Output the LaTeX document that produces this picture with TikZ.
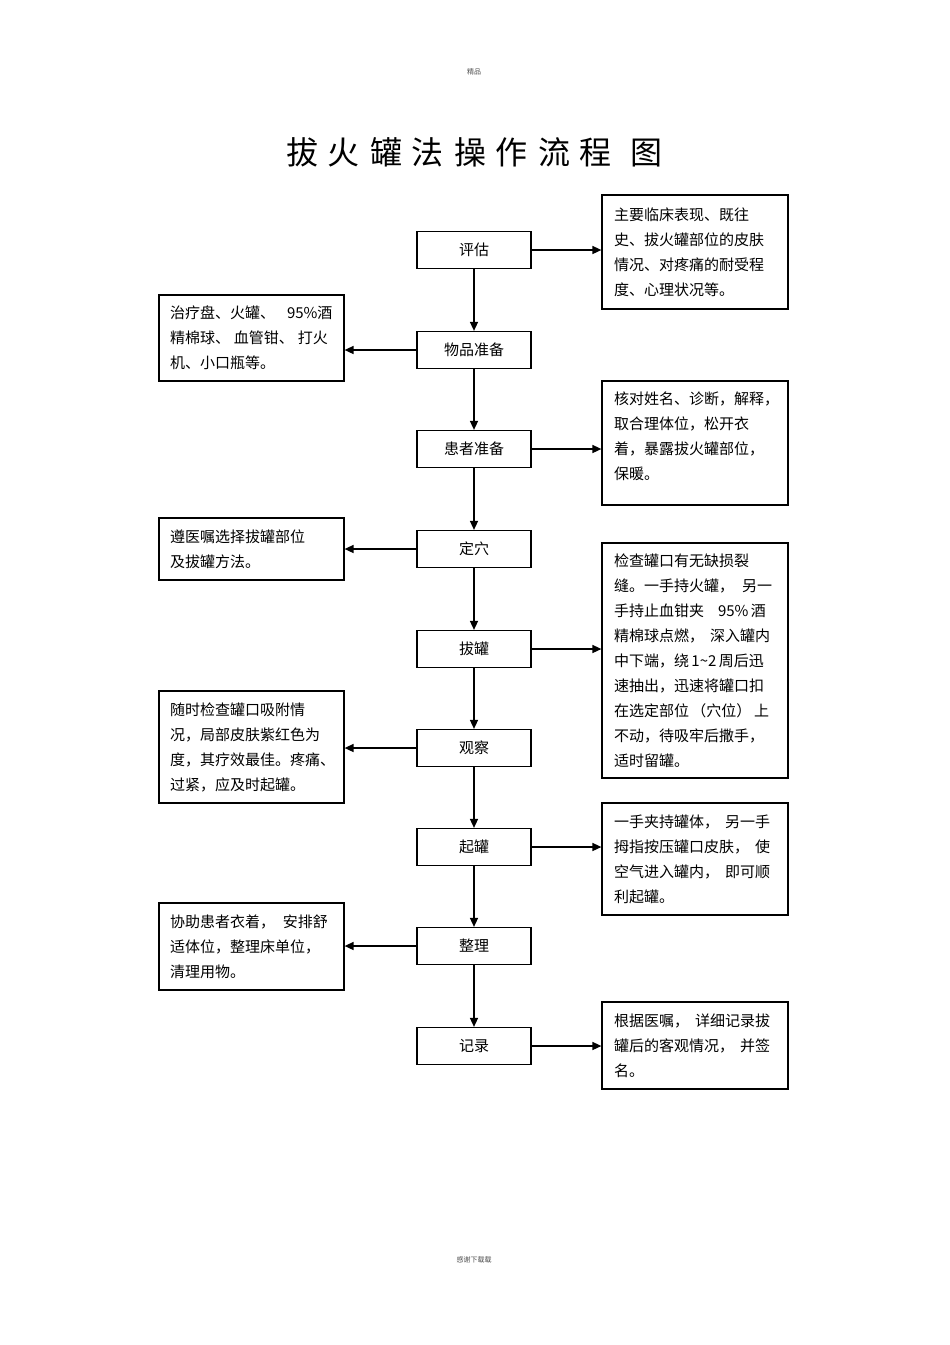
\documentclass[tikz,border=0pt]{standalone}
\usepackage{fontspec}
\setmainfont{Noto Sans CJK SC}
\usetikzlibrary{arrows.meta}
\begin{document}
\begin{tikzpicture}[x=1pt,y=-1pt,
  cbox/.style={draw, line width=1.2pt, minimum width=114pt, minimum height=37pt, inner sep=0pt, font=\fontsize{15}{18}\selectfont},
  rbox/.style={draw, line width=1.2pt, text width=162pt, inner xsep=12pt, inner ysep=0pt, align=left, font=\fontsize{15}{25}\selectfont},
  lbox/.style={draw, line width=1.2pt, text width=163pt, inner xsep=11pt, inner ysep=0pt, align=left, font=\fontsize{15}{25}\selectfont},
  arr/.style={line width=1.5pt, -{Triangle[length=9pt,width=8pt]}},
  small/.style={text=black!70, font=\fontsize{7}{8}\selectfont}]
\useasboundingbox (0,0) rectangle (950,1345);
\fill[white] (0,0) rectangle (950,1345);

\node[small] (hdr) at (474,72) {精品};
\node[small] (ftr) at (474,1260) {感谢下载载};
\node[font=\fontsize{32}{36}\selectfont] (title) at (474,152)
  {拔\hspace{10pt}火\hspace{10pt}罐\hspace{10pt}法\hspace{10pt}操\hspace{10pt}作\hspace{10pt}流\hspace{10pt}程\hspace{18pt}图};

% centre column
\node[cbox] (a1) at (474,250) {评估};
\node[cbox] (a2) at (474,350) {物品准备};
\node[cbox] (a3) at (474,449) {患者准备};
\node[cbox] (a4) at (474,549) {定穴};
\node[cbox] (a5) at (474,649) {拔罐};
\node[cbox] (a6) at (474,748) {观察};
\node[cbox] (a7) at (474,847) {起罐};
\node[cbox] (a8) at (474,946) {整理};
\node[cbox] (a9) at (474,1046) {记录};

% right boxes
\node[rbox, minimum height=114pt] (r1) at (695,252)
  {主要临床表现、既往\\史、拔火罐部位的皮肤\\情况、对疼痛的耐受程\\度、心理状况等。};
\node[rbox, minimum height=124pt] (r2) at (695,443)
  {核对姓名、诊断，解释，\\取合理体位，松开衣\\着，暴露拔火罐部位，\\保暖。\\[-10pt]\mbox{}};
\node[rbox, minimum height=235pt] (r3) at (695,660.5)
  {检查罐口有无缺损裂\\缝。一手持火罐，\hspace{8pt}另一\\手持止血钳夹\hspace{14pt}95\%\,酒\\精棉球点燃，\hspace{6pt}深入罐内\\中下端，绕\,1\textasciitilde2\,周后迅\\速抽出，迅速将罐口扣\\在选定部位\,（穴位）\,上\\不动，待吸牢后撒手，\\适时留罐。};
\node[rbox, minimum height=112pt] (r4) at (695,859)
  {一手夹持罐体，\hspace{6pt}另一手\\拇指按压罐口皮肤，\hspace{6pt}使\\空气进入罐内，\hspace{6pt}即可顺\\利起罐。};
\node[rbox, minimum height=87pt] (r5) at (695,1045.5)
  {根据医嘱，\hspace{6pt}详细记录拔\\罐后的客观情况，\hspace{6pt}并签\\名。};

% left boxes
\node[lbox, minimum height=86pt] (l1) at (251.5,338)
  {治疗盘、火罐、\hspace{12pt}95\%酒\\精棉球、\hspace{4pt}血管钳、\hspace{4pt}打火\\机、小口瓶等。};
\node[lbox, minimum height=62pt] (l2) at (251.5,549)
  {遵医嘱选择拔罐部位\\及拔罐方法。};
\node[lbox, minimum height=112pt] (l3) at (251.5,747)
  {随时检查罐口吸附情\\况，局部皮肤紫红色为\\度，其疗效最佳。疼痛、\\过紧，应及时起罐。};
\node[lbox, minimum height=87pt] (l4) at (251.5,946.5)
  {协助患者衣着，\hspace{8pt}安排舒\\适体位，整理床单位，\\清理用物。};

% vertical flow
\draw[arr] (a1.south) -- (a2.north);
\draw[arr] (a2.south) -- (a3.north);
\draw[arr] (a3.south) -- (a4.north);
\draw[arr] (a4.south) -- (a5.north);
\draw[arr] (a5.south) -- (a6.north);
\draw[arr] (a6.south) -- (a7.north);
\draw[arr] (a7.south) -- (a8.north);
\draw[arr] (a8.south) -- (a9.north);

% side arrows
\draw[arr] (a1.east) -- (a1.east -| r1.west);
\draw[arr] (a3.east) -- (a3.east -| r2.west);
\draw[arr] (a5.east) -- (a5.east -| r3.west);
\draw[arr] (a7.east) -- (a7.east -| r4.west);
\draw[arr] (a9.east) -- (a9.east -| r5.west);
\draw[arr] (a2.west) -- (a2.west -| l1.east);
\draw[arr] (a4.west) -- (a4.west -| l2.east);
\draw[arr] (a6.west) -- (a6.west -| l3.east);
\draw[arr] (a8.west) -- (a8.west -| l4.east);
\end{tikzpicture}
\end{document}
